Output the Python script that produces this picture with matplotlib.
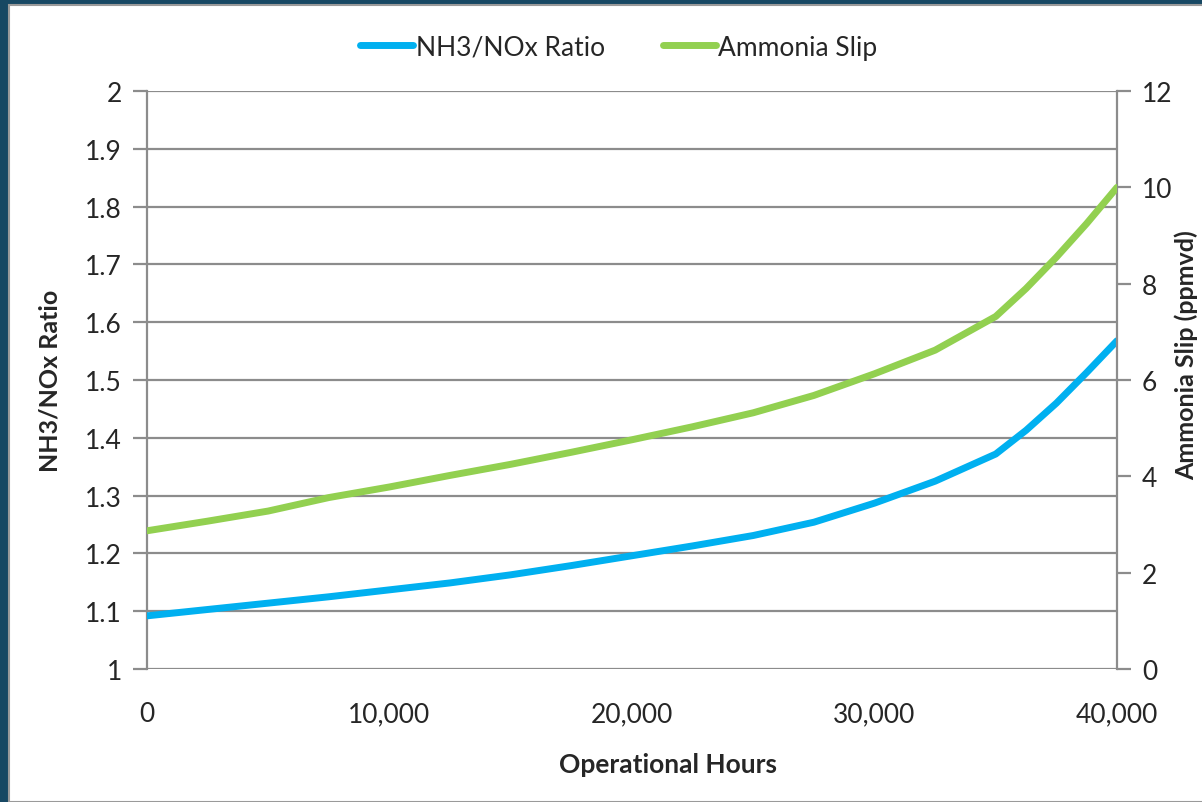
import matplotlib

matplotlib.use("Agg")
import matplotlib.pyplot as plt  # noqa: E402
import matplotlib.ticker as ticker  # noqa: E402
from matplotlib.patches import Rectangle  # noqa: E402

# Operating hours and measured values
hours = [0, 2500, 5000, 7500, 10000, 12500, 15000, 17500, 20000,
         22500, 25000, 27500, 30000, 32500, 35000, 36250, 37500, 38750, 40000]
nh3_nox_ratio = [1.092, 1.103, 1.114, 1.125, 1.137, 1.149, 1.163, 1.179, 1.196,
                 1.213, 1.231, 1.254, 1.287, 1.325, 1.372, 1.413, 1.460, 1.513, 1.568]
ammonia_slip = [2.87, 3.07, 3.28, 3.56, 3.78, 4.02, 4.25, 4.50, 4.76,
                5.03, 5.32, 5.68, 6.13, 6.62, 7.32, 7.90, 8.55, 9.25, 10.0]

BLUE = "#00B0F0"
GREEN = "#92D050"
GRID = "#8C8C8C"
TEXT = "#262626"

plt.rcParams["font.family"] = ["Lato", "DejaVu Sans"]

fig = plt.figure(figsize=(12.02, 8.03), dpi=100)
fig.patch.set_facecolor("#174863")
# white slide panel with thin grey edge, kept behind the axes
fig.patches.append(Rectangle((9 / 1202, 0), 1.0, 1 - 6 / 803, transform=fig.transFigure,
                             facecolor="white", edgecolor="#9A9A9A", linewidth=1.5, zorder=-5))

ax = fig.add_axes([0.1223, 0.1656, 0.8070, 0.7198])
ax.set_facecolor("none")
ax2 = ax.twinx()

l1, = ax.plot(hours, nh3_nox_ratio, color=BLUE, linewidth=5, solid_capstyle="round",
              solid_joinstyle="round", label="NH3/NOx Ratio", zorder=3)
l2, = ax2.plot(hours, ammonia_slip, color=GREEN, linewidth=5, solid_capstyle="round",
               solid_joinstyle="round", label="Ammonia Slip", zorder=3)

ax.set_xlim(0, 40000)
ax.set_ylim(1, 2)
ax2.set_ylim(0, 12)

ax.xaxis.set_major_locator(ticker.MultipleLocator(10000))
ax.xaxis.set_major_formatter(ticker.FuncFormatter(lambda v, _: f"{v:,.0f}"))
ax.xaxis.set_minor_locator(ticker.FixedLocator([0, 40000]))
ax.yaxis.set_major_locator(ticker.MultipleLocator(0.1))
ax.yaxis.set_major_formatter(ticker.FuncFormatter(lambda v, _: f"{v:g}"))
ax2.yaxis.set_major_locator(ticker.MultipleLocator(2))

ax.grid(axis="y", color=GRID, linewidth=1.6)
ax.set_axisbelow(True)

for a in (ax, ax2):
    for s in ("top", "bottom"):
        a.spines[s].set_visible(False)
    a.spines["left"].set_color(GRID)
    a.spines["right"].set_color(GRID)
    a.spines["left"].set_linewidth(1.6)
    a.spines["right"].set_linewidth(1.6)
ax.spines["right"].set_visible(False)
ax2.spines["left"].set_visible(False)

ax.tick_params(axis="y", direction="out", length=10, width=1.6, color=GRID,
               labelsize=19, labelcolor=TEXT, pad=8)
ax2.tick_params(axis="y", direction="out", length=10, width=1.6, color=GRID,
                labelsize=19, labelcolor=TEXT, pad=8)
ax.tick_params(axis="x", which="major", length=0, labelsize=19, labelcolor=TEXT, pad=23)
ax.tick_params(axis="x", which="minor", direction="out", length=10, width=1.6, color=GRID)

ax.set_xlabel("Operational Hours", fontsize=19, fontweight="bold", color=TEXT,
              va="center")
ax.xaxis.set_label_coords(0.537, -0.164)
ax.set_ylabel("NH3/NOx Ratio", fontsize=18, fontweight="bold", color=TEXT,
              ha="center", va="center")
ax.yaxis.set_label_coords(-0.1, 0.5)
ax2.set_ylabel("Ammonia Slip (ppmvd)", fontsize=18, fontweight="bold", color=TEXT,
               rotation=90, ha="center", va="center")
ax2.yaxis.set_label_coords(1.071, 0.545)

fig.legend(handles=[l1, l2], loc="center", bbox_to_anchor=(0.515, 0.94), ncol=2,
           frameon=False, fontsize=19, handlelength=2.0, handletextpad=0.1,
           columnspacing=2.2, labelcolor=TEXT)

fig.savefig("out.png", dpi=100, facecolor=fig.get_facecolor())
